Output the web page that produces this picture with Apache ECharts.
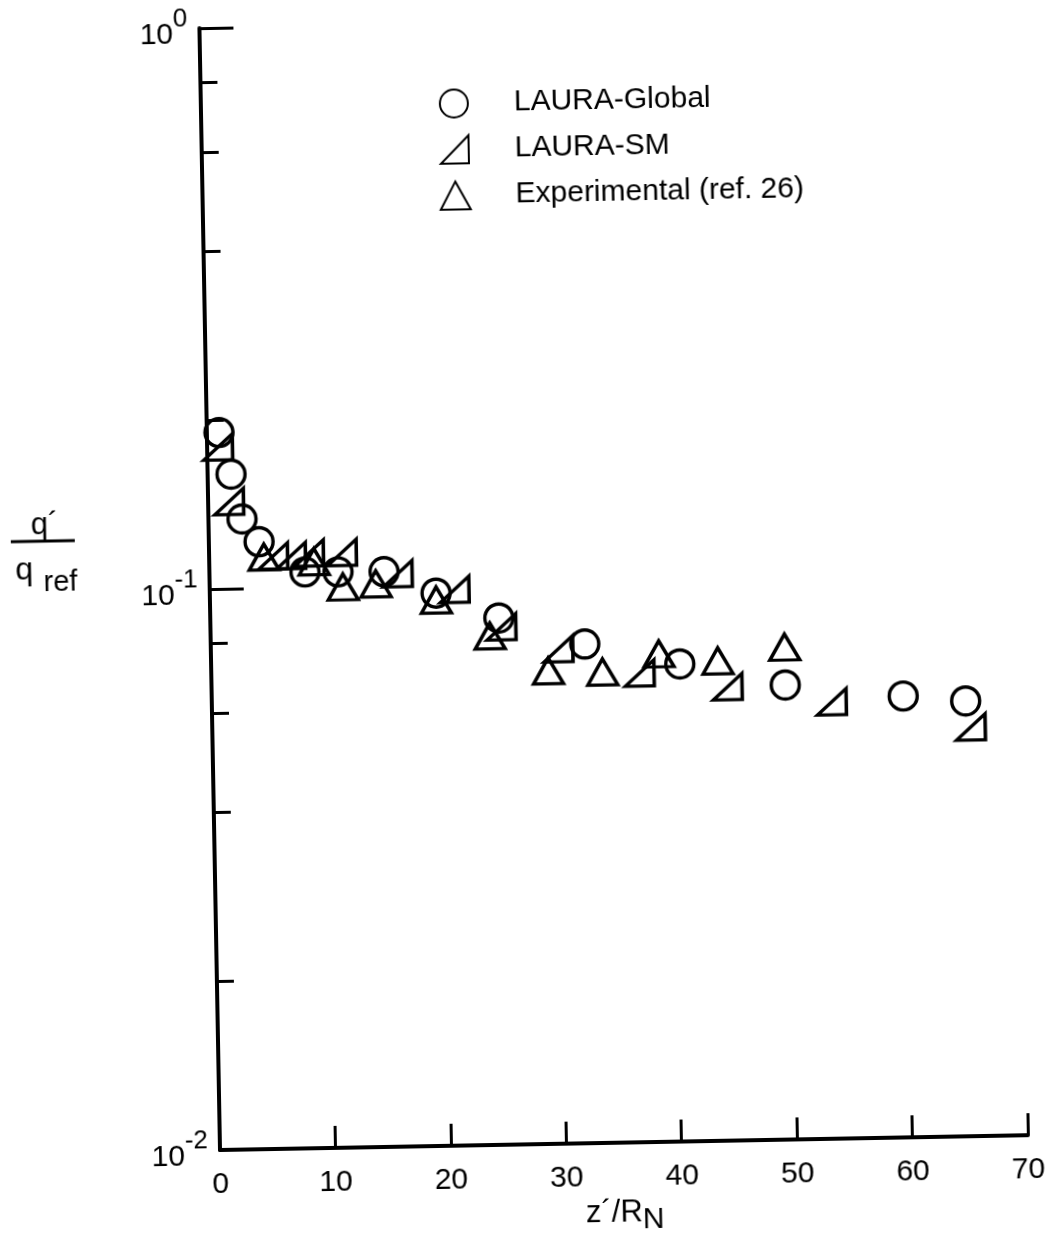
<!DOCTYPE html>
<html><head><meta charset="utf-8">
<script src="https://cdn.jsdelivr.net/npm/echarts@6.0.0/dist/echarts.min.js"></script>
<style>
html,body{margin:0;padding:0;background:#fff;overflow:hidden}
#chart{width:1050px;height:1237px;transform:rotate(-1.05deg);transform-origin:220px 1150px}
</style>
</head><body><div id="chart"></div>
<script>
// ---- data ----
const seriesNames = ['LAURA-Global', 'LAURA-SM', 'Experimental (ref. 26)'];

const globalX = [1.05, 2.03, 2.91, 4.35, 8.28, 11.14, 15.13, 19.6, 25.0, 32.4, 40.6, 49.7, 59.9, 65.3];
const globalY = [0.190, 0.160, 0.133, 0.121, 0.1065, 0.1063, 0.106, 0.0967, 0.0869, 0.0776, 0.0710, 0.0646, 0.0612, 0.0597];

const smX = [0.94, 1.81, 5.54, 7.09, 8.65, 11.5, 16.3, 21.2, 25.2, 30.1, 37.1, 44.7, 53.7, 65.7];
const smY = [0.179, 0.143, 0.114, 0.114, 0.115, 0.115, 0.105, 0.098, 0.0838, 0.0762, 0.0686, 0.0644, 0.0601, 0.0536];

const expX = [4.75, 9.08, 11.55, 14.4, 19.6, 24.2, 29.2, 33.9, 38.8, 43.9, 49.7];
const expY = [0.1136, 0.111, 0.0999, 0.1009, 0.094, 0.0808, 0.0697, 0.0691, 0.0741, 0.0717, 0.0755];

const xTickValues = [0, 10, 20, 30, 40, 50, 60, 70];
const yMajorTicks = [0.01, 0.1, 1];
const yExponentLabels = ['-2', '-1', '0'];
const yMinorTicks = [0.02, 0.04, 0.06, 0.08, 0.2, 0.4, 0.6, 0.8];

// ---- chart ----
const FONT = '"Liberation Sans", Arial, Helvetica, sans-serif';
const pair = (xs, ys) => xs.map((x, i) => [x, ys[i]]);
const hollow = {color: 'rgba(0,0,0,0)', borderColor: '#000', borderWidth: 3.4, opacity: 1};

const chart = echarts.init(document.getElementById('chart'), null, {renderer: 'canvas'});
chart.setOption({
  animation: false,
  backgroundColor: '#fff',
  grid: {left: 220, top: 28, right: 22, bottom: 87, containLabel: false, outerBoundsMode: 'none'},
  legend: {
    orient: 'vertical', left: 452, top: 88,
    itemWidth: 30, itemHeight: 28, itemGap: 16,
    data: seriesNames,
    formatter: n => '{g| }' + n,
    textStyle: {fontFamily: FONT, fontSize: 30, color: '#000', rich: {g: {width: 40}}}
  },
  xAxis: {
    type: 'value', min: 0, max: 70, interval: 10,
    axisLine: {show: true, onZero: false, lineStyle: {color: '#000', width: 4}},
    axisTick: {show: true, inside: true, length: 22, lineStyle: {color: '#000', width: 3}, customValues: xTickValues},
    axisLabel: {margin: 20, color: '#000', fontFamily: FONT, fontSize: 30, customValues: xTickValues},
    splitLine: {show: false},
    name: '{a|z´/R}{s|N}', nameLocation: 'middle', nameGap: 55,
    nameTextStyle: {rich: {
      a: {fontFamily: FONT, fontSize: 31, color: '#000', verticalAlign: 'top'},
      s: {fontFamily: FONT, fontSize: 30, color: '#000', padding: [8, 0, 0, 0]}
    }}
  },
  yAxis: [{
    type: 'log', logBase: 10, min: 0.01, max: 1,
    axisLine: {show: true, onZero: false, lineStyle: {color: '#000', width: 4}},
    axisTick: {show: true, inside: true, length: 34, lineStyle: {color: '#000', width: 3}, customValues: yMajorTicks},
    axisLabel: {
      margin: 12, customValues: yMajorTicks,
      formatter: v => {
        const i = yMajorTicks.findIndex(t => Math.abs(t - v) / t < 1e-6);
        return '{b|10}{s|' + yExponentLabels[i] + '}';
      },
      rich: {
        b: {fontFamily: FONT, fontSize: 30, color: '#000', padding: [14, 0, 0, 0]},
        s: {fontFamily: FONT, fontSize: 26, color: '#000', verticalAlign: 'top'}
      }
    },
    splitLine: {show: false}
  }, {
    type: 'log', logBase: 10, min: 0.01, max: 1, position: 'left',
    axisLine: {show: false},
    axisTick: {show: true, inside: true, length: 17, lineStyle: {color: '#000', width: 3}, customValues: yMinorTicks},
    axisLabel: {show: false},
    splitLine: {show: false}
  }],
  graphic: [
    {type: 'line', shape: {x1: 22, y1: 538, x2: 86, y2: 538}, style: {stroke: '#000', lineWidth: 3}},
    {type: 'text', x: 56, y: 522, style: {text: 'q´', fontFamily: FONT, fontSize: 31, fill: '#000', align: 'center', verticalAlign: 'middle'}},
    {type: 'text', x: 35, y: 567, style: {text: 'q', fontFamily: FONT, fontSize: 32, fill: '#000', align: 'center', verticalAlign: 'middle'}},
    {type: 'text', x: 71, y: 580, style: {text: 'ref', fontFamily: FONT, fontSize: 29, fill: '#000', align: 'center', verticalAlign: 'middle'}}
  ],
  series: [
    {name: seriesNames[0], type: 'scatter', data: pair(globalX, globalY),
     symbol: 'circle', symbolSize: 28, itemStyle: hollow, z: 3},
    {name: seriesNames[1], type: 'scatter', data: pair(smX, smY),
     symbol: 'path://M0,20 L20,20 L20,0 Z', symbolSize: [29, 26], itemStyle: hollow, z: 3},
    {name: seriesNames[2], type: 'scatter', data: pair(expX, expY),
     symbol: 'triangle', symbolSize: [30, 26], itemStyle: hollow, z: 3}
  ]
});
</script>
</body></html>
